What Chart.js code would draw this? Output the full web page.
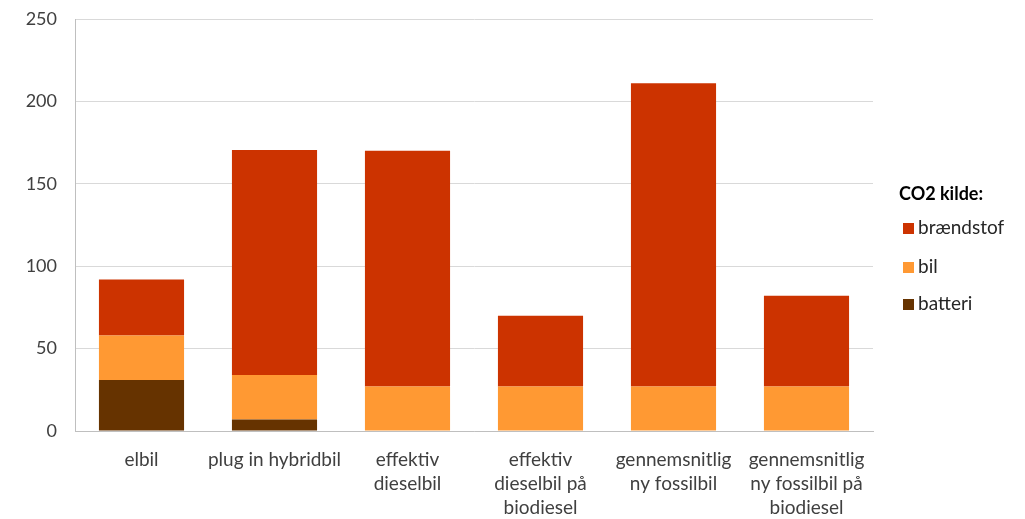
<!DOCTYPE html>
<html>
<head>
<meta charset="utf-8">
<style>
  html, body { margin: 0; padding: 0; background: #ffffff; }
  #wrap { position: relative; width: 1025px; height: 519px; }
</style>
<script src="https://cdn.jsdelivr.net/npm/chart.js@4/dist/chart.umd.min.js"></script>
</head>
<body>
<div id="wrap"><canvas id="c" width="1025" height="519"></canvas></div>
<script>
// Car types along the x axis (multi-line labels)
const categories = [
  ['elbil'],
  ['plug in hybridbil'],
  ['effektiv', 'dieselbil'],
  ['effektiv', 'dieselbil på', 'biodiesel'],
  ['gennemsnitlig', 'ny fossilbil'],
  ['gennemsnitlig', 'ny fossilbil på', 'biodiesel']
];

// CO2 contributions per source (g/km)
const batteri    = [31, 7, 0, 0, 0, 0];
const bil        = [27, 27, 27, 27, 27, 27];
const braendstof = [34, 136.5, 143, 43, 184, 55];

const yTicks = [0, 50, 100, 150, 200, 250];
const legendTitle = 'CO2 kilde:';

const FONT = 'Lato, "Open Sans", sans-serif';

// Legend drawn in the right margin, brændstof first
const sideLegend = {
  id: 'sideLegend',
  afterDraw(chart) {
    const ctx = chart.ctx;
    ctx.save();
    ctx.textBaseline = 'middle';
    ctx.fillStyle = '#000000';
    ctx.font = 'bold 18px ' + FONT;
    ctx.fillText(legendTitle, 899, 194);
    const ds = chart.data.datasets.slice().reverse();
    const ys = [228, 267, 304];
    ds.forEach((d, i) => {
      ctx.fillStyle = d.backgroundColor;
      ctx.fillRect(903, ys[i] - 5, 11, 11);
      ctx.fillStyle = '#262626';
      ctx.font = '19px ' + FONT;
      ctx.fillText(d.label, 918, ys[i]);
    });
    ctx.restore();
  }
};

new Chart(document.getElementById('c'), {
  type: 'bar',
  data: {
    labels: categories,
    datasets: [
      { label: 'batteri', data: batteri, backgroundColor: '#663300' },
      { label: 'bil', data: bil, backgroundColor: '#FF9933' },
      { label: 'brændstof', data: braendstof, backgroundColor: '#CC3300' }
    ]
  },
  options: {
    responsive: false,
    animation: false,
    layout: { padding: { top: 19, right: 152, left: 0, bottom: 0 } },
    datasets: { bar: { categoryPercentage: 0.64, barPercentage: 1.0, borderWidth: 0 } },
    plugins: {
      legend: { display: false },
      tooltip: { enabled: false }
    },
    scales: {
      x: {
        stacked: true,
        grid: { display: false, drawTicks: false },
        border: { display: true, color: '#bfbfbf', width: 1 },
        ticks: {
          color: '#404040',
          font: { family: FONT, size: 19, lineHeight: 1.26 },
          padding: 17,
          maxRotation: 0,
          autoSkip: false
        },
        afterFit(scale) { scale.height = 88; }
      },
      y: {
        stacked: true,
        min: 0,
        max: 250,
        afterBuildTicks(scale) { scale.ticks = yTicks.map(v => ({ value: v })); },
        grid: { color: '#d9d9d9', lineWidth: 1, drawTicks: false },
        border: { display: true, color: '#bfbfbf', width: 1 },
        ticks: {
          color: '#404040',
          font: { family: FONT, size: 18 },
          padding: 18
        },
        afterFit(scale) {
          scale.width = 75;
          scale.paddingTop = 0;
          scale.paddingBottom = 0;
        }
      }
    }
  },
  plugins: [sideLegend]
});
</script>
</body>
</html>
